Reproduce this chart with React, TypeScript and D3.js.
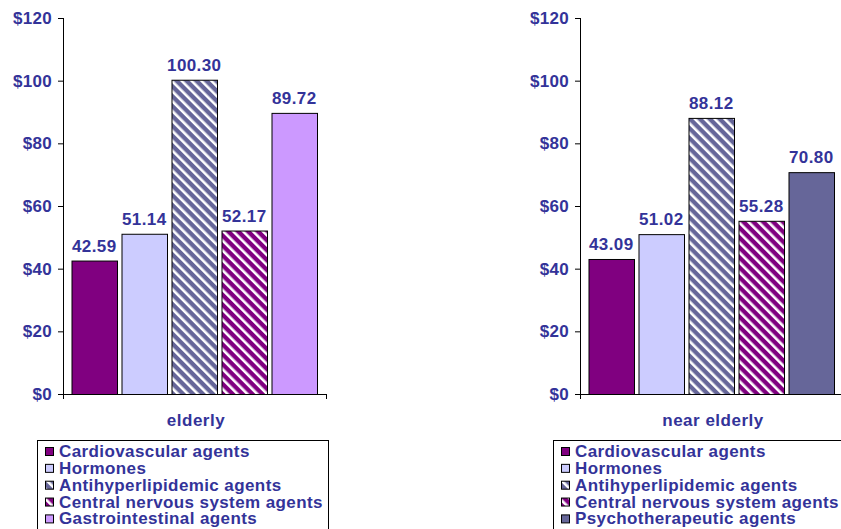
import React from "react";
import * as d3 from "d3";

const seriesNamesElderly = [
  "Cardiovascular agents",
  "Hormones",
  "Antihyperlipidemic agents",
  "Central nervous system agents",
  "Gastrointestinal agents",
];
const seriesNamesNear = [
  "Cardiovascular agents",
  "Hormones",
  "Antihyperlipidemic agents",
  "Central nervous system agents",
  "Psychotherapeutic agents",
];
const elderlyValues = [42.59, 51.14, 100.3, 52.17, 89.72];
const nearElderlyValues = [43.09, 51.02, 88.12, 55.28, 70.8];
const yTicks = [0, 20, 40, 60, 80, 100, 120];
const categoryElderly = "elderly";
const categoryNear = "near elderly";

const fillsElderly = ["#800080", "#CCCCFF", "url(#stripeBlue)", "url(#stripePurple)", "#CC99FF"];
const fillsNear = ["#800080", "#CCCCFF", "url(#stripeBlue)", "url(#stripePurple)", "#666699"];

const TEXT = "#333399";
const FONT = "'Liberation Sans', Arial, sans-serif";

type PanelProps = {
  axisX: number;
  names: string[];
  values: number[];
  fills: string[];
  category: string;
  legendX: number;
  legendW: number;
};

const yScale = d3.scaleLinear().domain([0, 120]).range([394, 18]);

function Panel({ axisX, names, values, fills, category, legendX, legendW }: PanelProps) {
  const plotW = 264;
  const x = d3
    .scaleBand<number>()
    .domain(d3.range(values.length))
    .range([axisX + 8.5, axisX + 254])
    .paddingInner(0.09)
    .paddingOuter(0);
  const y0 = yScale(0);
  return (
    <g>
      {/* y axis */}
      <line x1={axisX + 0.5} x2={axisX + 0.5} y1={yScale(120)} y2={y0 + 5} stroke="#000" />
      {yTicks.map((t) => (
        <g key={t}>
          <line x1={axisX - 5} x2={axisX} y1={yScale(t) + 0.5} y2={yScale(t) + 0.5} stroke="#000" />
          <text
            x={axisX - 11}
            y={yScale(t) + 6}
            textAnchor="end"
            fontSize={17}
            fontWeight="bold"
            letterSpacing={0.3}
            fill={TEXT}
            fontFamily={FONT}
          >
            {d3.format("$")(t).replace(".00", "")}
          </text>
        </g>
      ))}
      {/* bars */}
      {values.map((v, i) => (
        <g key={i}>
          <rect
            x={x(i)! + 0.5}
            y={yScale(v) + 0.5}
            width={x.bandwidth()}
            height={y0 - yScale(v)}
            fill={fills[i]}
            stroke="#000"
            strokeWidth={1}
          />
          <text
            x={x(i)! + x.bandwidth() / 2}
            y={yScale(v) - 9}
            textAnchor="middle"
            fontSize={17}
            fontWeight="bold"
            letterSpacing={0.4}
            fill={TEXT}
            fontFamily={FONT}
          >
            {d3.format(".2f")(v)}
          </text>
        </g>
      ))}
      {/* x axis */}
      <line x1={axisX} x2={axisX + plotW} y1={y0 + 0.5} y2={y0 + 0.5} stroke="#000" />
      <line x1={axisX + plotW - 0.5} x2={axisX + plotW - 0.5} y1={y0} y2={y0 + 5} stroke="#000" />
      <text
        x={axisX + plotW / 2 + 1}
        y={426}
        textAnchor="middle"
        fontSize={17}
        fontWeight="bold"
        letterSpacing={0.5}
        fill={TEXT}
        fontFamily={FONT}
      >
        {category}
      </text>
      {/* legend */}
      <rect x={legendX + 0.5} y={440.5} width={legendW} height={120} fill="#fff" stroke="#000" />
      {names.map((n, i) => {
        const base = 457 + i * 16.85;
        return (
          <g key={n}>
            <rect
              x={legendX + 8.5}
              y={base - 9.5}
              width={8}
              height={8}
              fill={fills[i]}
              stroke="#000"
            />
            <text
              x={legendX + 22}
              y={base}
              fontSize={17}
              fontWeight="bold"
              letterSpacing={0.4}
              fill={TEXT}
              fontFamily={FONT}
            >
              {n}
            </text>
          </g>
        );
      })}
    </g>
  );
}

export default function App() {
  return (
    <svg
      width={841}
      height={529}
      style={{ position: "absolute", left: 0, top: 0, background: "#fff" }}
    >
      <defs>
        <pattern
          id="stripeBlue"
          patternUnits="userSpaceOnUse"
          width={7}
          height={7}
          patternTransform="rotate(-45)"
        >
          <rect width={7} height={7} fill="#666699" />
          <rect width={2.6} height={7} fill="#fff" />
        </pattern>
        <pattern
          id="stripePurple"
          patternUnits="userSpaceOnUse"
          width={7}
          height={7}
          patternTransform="rotate(-45)"
        >
          <rect width={7} height={7} fill="#800080" />
          <rect width={2.6} height={7} fill="#fff" />
        </pattern>
      </defs>
      <rect width={841} height={529} fill="#fff" />
      <Panel
        axisX={63}
        names={seriesNamesElderly}
        values={elderlyValues}
        fills={fillsElderly}
        category={categoryElderly}
        legendX={37}
        legendW={291}
      />
      <Panel
        axisX={580}
        names={seriesNamesNear}
        values={nearElderlyValues}
        fills={fillsNear}
        category={categoryNear}
        legendX={553}
        legendW={300}
      />
    </svg>
  );
}
